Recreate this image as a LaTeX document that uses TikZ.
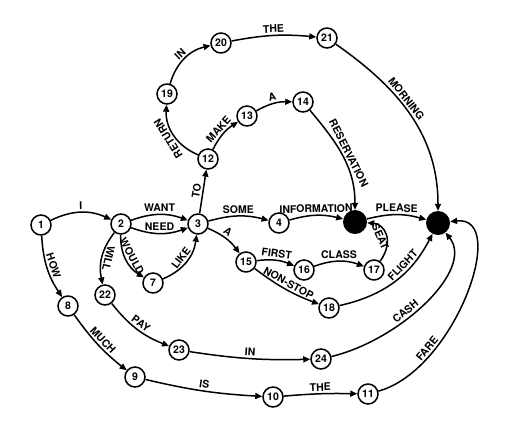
\documentclass[tikz,border=0pt]{standalone}
\usepackage{fontspec}
\setsansfont{TeX Gyre Heros}
\usetikzlibrary{arrows.meta}
\newcommand{\labfont}{\sffamily\bfseries\fontsize{10.5}{10.5}\selectfont}
\newcommand{\numfont}{\sffamily\bfseries\fontsize{10.5}{10.5}\selectfont}
\tikzset{
  st/.style={circle, draw, line width=1.5pt, minimum size=20pt, inner sep=0pt, font=\numfont},
  dot/.style={circle, fill=black, minimum size=24pt, inner sep=0pt},
  edge/.style={line width=1.5pt, -{Triangle[length=7pt,width=6pt]}},
  lab/.style={auto, sloped, font=\labfont, inner sep=2pt},
}
\begin{document}
\begin{tikzpicture}[x=1pt,y=-1pt]
\useasboundingbox[fill=white] (0,0) rectangle (508,426);
% nodes
\node[st] (n1) at (41,225) {1};
\node[st] (n2) at (121,224) {2};
\node[st] (n3) at (198,224) {3};
\node[st] (n4) at (279,223) {4};
\node[dot] (nA) at (355,222) {};
\node[dot] (nB) at (438,223) {};
\node[st] (n7) at (153,283) {7};
\node[st] (n8) at (68,306) {8};
\node[st] (n9) at (135,377) {9};
\node[st] (n10) at (273,397) {10};
\node[st] (n11) at (368,394) {11};
\node[st] (n12) at (208,159) {12};
\node[st] (n13) at (247,116) {13};
\node[st] (n14) at (303,102) {14};
\node[st] (n15) at (246,262) {15};
\node[st] (n16) at (304,270) {16};
\node[st] (n17) at (374,270) {17};
\node[st] (n18) at (329,308) {18};
\node[st] (n19) at (167,94) {19};
\node[st] (n20) at (221,43) {20};
\node[st] (n21) at (327,38) {21};
\node[st] (n22) at (105,295) {22};
\node[st] (n23) at (179,350) {23};
\node[st] (n24) at (321,359) {24};
% edges
\draw[edge] (n1) to[bend left=25] node[lab]{I} (n2);
\draw[edge] (n1) to[bend right=15] node[lab]{HOW} (n8);
\draw[edge] (n2) to[bend left=20] node[lab]{WANT} (n3);
\draw[edge] (n2) to[bend right=20] node[lab]{NEED} (n3);
\draw[edge] (n2) to[bend right=30] node[lab]{WOULD} (n7);
\draw[edge] (n7) to[bend right=30] node[lab]{LIKE} (n3);
\draw[edge] (n2) to[bend right=25] node[lab,allow upside down]{WILL} (n22);
\draw[edge] (n3) to node[lab]{TO} (n12);
\draw[edge] (n3) to[bend left=15] node[lab]{SOME} (n4);
\draw[edge] (n3) to[bend left=15] node[lab,pos=0.45]{A} (n15);
\draw[edge] (n4) to[bend left=15] node[lab]{INFORMATION} (nA);
\draw[edge] (nA) to[bend left=15] node[lab]{PLEASE} (nB);
\draw[edge] (n12) to[bend left=35] node[lab,allow upside down]{RETURN} (n19);
\draw[edge] (n12) to[bend left=15] node[lab]{MAKE} (n13);
\draw[edge] (n13) to[bend left=15] node[lab]{A} (n14);
\draw[edge] (n14) to[out=-50,in=90] node[lab]{RESERVATION} (nA);
\draw[edge] (n19) to[bend left=30] node[lab]{IN} (n20);
\draw[edge] (n20) to[bend left=8] node[lab]{THE} (n21);
\draw[edge] (n21) to[out=-35,in=90] node[lab,pos=0.42]{MORNING} (nB);
\draw[edge] (n15) to[bend left=15] node[lab]{FIRST} (n16);
\draw[edge] (n16) to[bend left=20] node[lab]{CLASS} (n17);
\draw[edge] (n15) to[bend right=8] node[lab]{NON-STOP} (n18);
\draw[edge] (n17) .. controls (395,240) and (384,224) .. node[lab,swap,pos=0.5,inner sep=1pt]{SEAT} (nA);
\draw[edge] (n18) to[bend right=25] node[lab,pos=0.65]{FLIGHT} (nB);
\draw[edge] (n22) to[bend right=15] node[lab]{PAY} (n23);
\draw[edge] (n23) to[bend right=5] node[lab]{IN} (n24);
\draw[edge] (n24) .. controls (400,340) and (475,270) .. node[lab,pos=0.4]{CASH} (nB);
\draw[edge] (n8) to[bend right=8] node[lab]{MUCH} (n9);
\draw[edge] (n9) to[bend right=5] node[lab]{IS} (n10);
\draw[edge] (n10) to[bend left=3] node[lab]{THE} (n11);
\draw[edge] (n11) .. controls (455,370) and (510,215) .. node[lab,pos=0.26]{FARE} (nB);
\end{tikzpicture}
\end{document}
